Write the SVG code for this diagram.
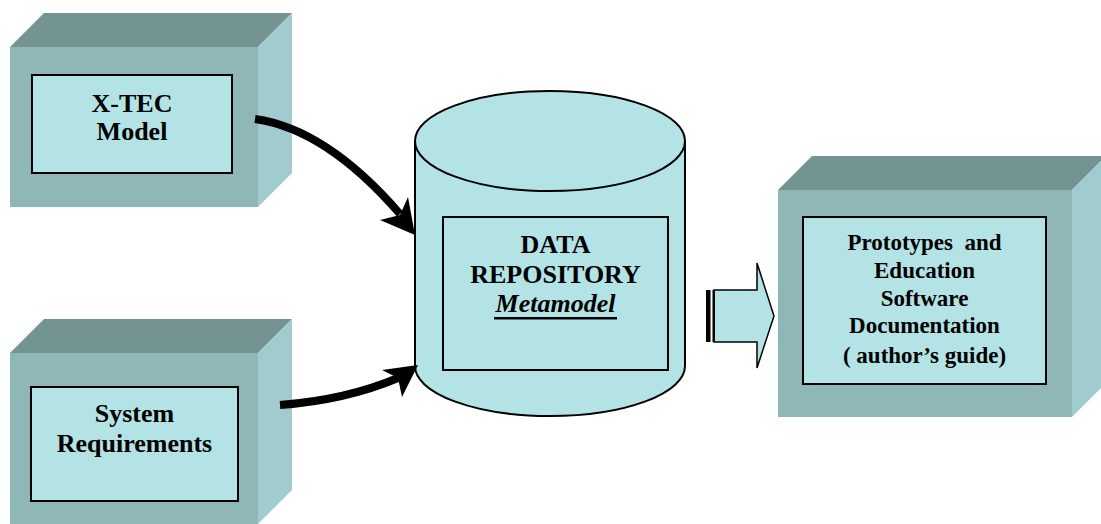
<svg xmlns="http://www.w3.org/2000/svg" width="1101" height="524" viewBox="0 0 1101 524">
<style>
.front{fill:#8fb7b7}
.top{fill:#749494}
.side{fill:#a1cbce}
.inner{fill:#b3e3e5;stroke:#000;stroke-width:2}
.lbl{font-weight:bold;text-anchor:middle;fill:#000}
.big{font-size:26px}
.small{font-size:23px}
.conn{fill:none;stroke:#000;stroke-width:8}
</style>
<rect width="1101" height="524" fill="#fff"/>
<g id="xtec">
<polygon class="top" points="10,47 44,13 292,13 258,47"/>
<polygon class="side" points="258,47 292,13 292,173 258,207"/>
<rect class="front" x="10" y="47" width="248" height="160"/>
<rect class="inner" x="32" y="75" width="200" height="98"/>
<text class="lbl big" font-family="Liberation Serif, serif" x="132" y="112">X-TEC</text>
<text class="lbl big" font-family="Liberation Serif, serif" x="132" y="140">Model</text>
</g>
<g id="sysreq">
<polygon class="top" points="10,353 44,319 292,319 258,353"/>
<polygon class="side" points="258,353 292,319 292,490 258,524"/>
<rect class="front" x="10" y="353" width="248" height="171"/>
<rect class="inner" x="31" y="387" width="207" height="114"/>
<text class="lbl big" font-family="Liberation Serif, serif" x="134.5" y="422">System</text>
<text class="lbl big" font-family="Liberation Serif, serif" x="134.5" y="452">Requirements</text>
</g>
<g id="repository">
<path d="M415,141 L415,366 A135,50 0 0 0 685,366 L685,141" fill="#b3e3e5" stroke="#000" stroke-width="2"/>
<ellipse cx="550" cy="141" rx="135" ry="50" fill="#b3e3e5" stroke="#000" stroke-width="2"/>
<rect class="inner" x="443" y="217" width="225" height="153"/>
<text class="lbl big" font-family="Liberation Serif, serif" x="555.5" y="253">DATA</text>
<text class="lbl big" font-family="Liberation Serif, serif" x="555.5" y="283">REPOSITORY</text>
<text class="lbl big" font-family="Liberation Serif, serif" x="555.5" y="312" font-style="italic">Metamodel</text>
<rect x="494" y="317" width="123" height="2.5" fill="#000"/>
</g>
<g id="prototypes">
<polygon class="top" points="778,190 812,156 1106,156 1072,190"/>
<polygon class="side" points="1072,190 1106,156 1106,383 1072,417"/>
<rect class="front" x="778" y="190" width="294" height="227"/>
<rect class="inner" x="803" y="217" width="243" height="167"/>
<text class="lbl small" font-family="Liberation Serif, serif" x="924.5" y="250" xml:space="preserve">Prototypes  and</text>
<text class="lbl small" font-family="Liberation Serif, serif" x="924.5" y="278">Education</text>
<text class="lbl small" font-family="Liberation Serif, serif" x="924.5" y="306">Software</text>
<text class="lbl small" font-family="Liberation Serif, serif" x="924.5" y="333">Documentation</text>
<text class="lbl small" font-family="Liberation Serif, serif" x="924.5" y="363">( author’s guide)</text>
</g>
<g id="connectors">
<path class="conn" d="M255,119 C305,126 355,162 400,214"/>
<polygon points="415,235 380,220 400,215 408,197" fill="#000"/>
<path class="conn" d="M280,405 C320,402 360,394 398,378"/>
<polygon points="418,365 382,370 398,378 402,397" fill="#000"/>
<polygon points="714,290 757,290 757,263 774,316 757,368 757,342 714,342" fill="#b3e3e5" stroke="#000" stroke-width="1.5"/>
<rect x="706" y="290" width="4.5" height="52" fill="#000"/>
<rect x="712.5" y="290" width="2.5" height="52" fill="#000"/>
</g>
</svg>
